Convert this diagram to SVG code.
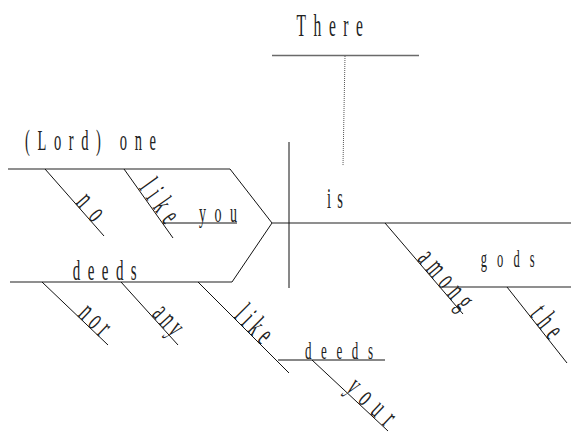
<svg xmlns="http://www.w3.org/2000/svg" width="571" height="434" viewBox="0 0 571 434">
  <style>
    .base { stroke: #6a6a6a; stroke-width: 1.4; fill: none; }
    .slant { stroke: #111; stroke-width: 1; fill: none; }
    .dots { stroke: #555; stroke-width: 1; stroke-dasharray: 1 1; fill: none; }
    .w { font-family: "Liberation Serif", "Times New Roman", serif; fill: #222; }
    .r { font-size: 32px; }
  </style>
  <rect width="571" height="434" fill="#fff"/>

  <g id="connectors">
    <!-- expletive "There" and its dotted link to the verb line -->
    <line class="base" x1="272" y1="55.5" x2="419" y2="55.5"/>
    <line class="dots" x1="345" y1="56" x2="343" y2="166"/>
    <!-- compound subject fork -->
    <line class="base" x1="8" y1="169" x2="230" y2="169"/>
    <line class="slant" x1="230" y1="169" x2="272" y2="223"/>
    <line class="base" x1="10" y1="282" x2="232" y2="282"/>
    <line class="slant" x1="232" y1="282" x2="272" y2="223"/>
    <!-- main baseline and subject/verb divider -->
    <line class="base" x1="272" y1="223" x2="571" y2="223"/>
    <line class="slant" x1="289" y1="142" x2="289" y2="288"/>
    <!-- modifiers of "one" -->
    <line class="slant" x1="45" y1="169" x2="104" y2="236"/>
    <line class="slant" x1="124" y1="169" x2="173" y2="238"/>
    <line class="slant" x1="163" y1="223" x2="237" y2="223"/>
    <!-- modifiers of "deeds" -->
    <line class="slant" x1="42" y1="282" x2="108" y2="345"/>
    <line class="slant" x1="121" y1="282" x2="178" y2="345"/>
    <line class="slant" x1="198" y1="282" x2="289" y2="373"/>
    <line class="slant" x1="278" y1="360" x2="385" y2="360"/>
    <line class="slant" x1="312" y1="360" x2="388" y2="431"/>
    <!-- prepositional phrase on the verb -->
    <line class="slant" x1="385" y1="223" x2="463" y2="314"/>
    <line class="base" x1="442" y1="287" x2="571" y2="287"/>
    <line class="slant" x1="507" y1="287" x2="567" y2="363"/>
  </g>

  <g id="node-there">
    <text class="w" font-size="31" textLength="133" lengthAdjust="spacing" transform="translate(296.5,35.7) scale(0.5,1)">There</text>
  </g>
  <g id="node-one">
    <text class="w" font-size="29" textLength="262" lengthAdjust="spacing" transform="translate(25,150) scale(0.5,1)">(Lord) one</text>
  </g>
  <g id="node-no">
    <text class="w r" textLength="54" lengthAdjust="spacing" transform="translate(75,203) rotate(48.6) scale(0.5,1)">no</text>
  </g>
  <g id="node-like-1">
    <text class="w r" textLength="92" lengthAdjust="spacing" transform="translate(138.5,188) rotate(54.6) scale(0.5,1)">like</text>
  </g>
  <g id="node-you">
    <text class="w" font-size="28" textLength="76" lengthAdjust="spacing" transform="translate(199,222) scale(0.5,1)">you</text>
  </g>
  <g id="node-deeds-1">
    <text class="w" font-size="30" textLength="128" lengthAdjust="spacing" transform="translate(72.7,280) scale(0.5,1)">deeds</text>
  </g>
  <g id="node-nor">
    <text class="w r" textLength="64" lengthAdjust="spacing" transform="translate(77,315.5) rotate(43.7) scale(0.5,1)">nor</text>
  </g>
  <g id="node-any">
    <text class="w r" textLength="62" lengthAdjust="spacing" transform="translate(151,315) rotate(47.9) scale(0.5,1)">any</text>
  </g>
  <g id="node-like-2">
    <text class="w r" textLength="80" lengthAdjust="spacing" transform="translate(233,317) rotate(45) scale(0.5,1)">like</text>
  </g>
  <g id="node-deeds-2">
    <text class="w" font-size="26" textLength="136" lengthAdjust="spacing" transform="translate(305,359.3) scale(0.5,1)">deeds</text>
  </g>
  <g id="node-your">
    <text class="w r" textLength="110" lengthAdjust="spacing" transform="translate(345,390) rotate(43.1) scale(0.5,1)">your</text>
  </g>
  <g id="node-is">
    <text class="w" font-size="29" textLength="32" lengthAdjust="spacing" transform="translate(327,208) scale(0.5,1)">is</text>
  </g>
  <g id="node-among">
    <text class="w r" textLength="136" lengthAdjust="spacing" transform="translate(416.5,259.5) rotate(49.7) scale(0.5,1)">among</text>
  </g>
  <g id="node-gods">
    <text class="w" font-size="25" textLength="108" lengthAdjust="spacing" transform="translate(480.7,267.3) scale(0.5,1)">gods</text>
  </g>
  <g id="node-the">
    <text class="w r" textLength="66" lengthAdjust="spacing" transform="translate(529,315) rotate(51.7) scale(0.5,1)">the</text>
  </g>
</svg>
